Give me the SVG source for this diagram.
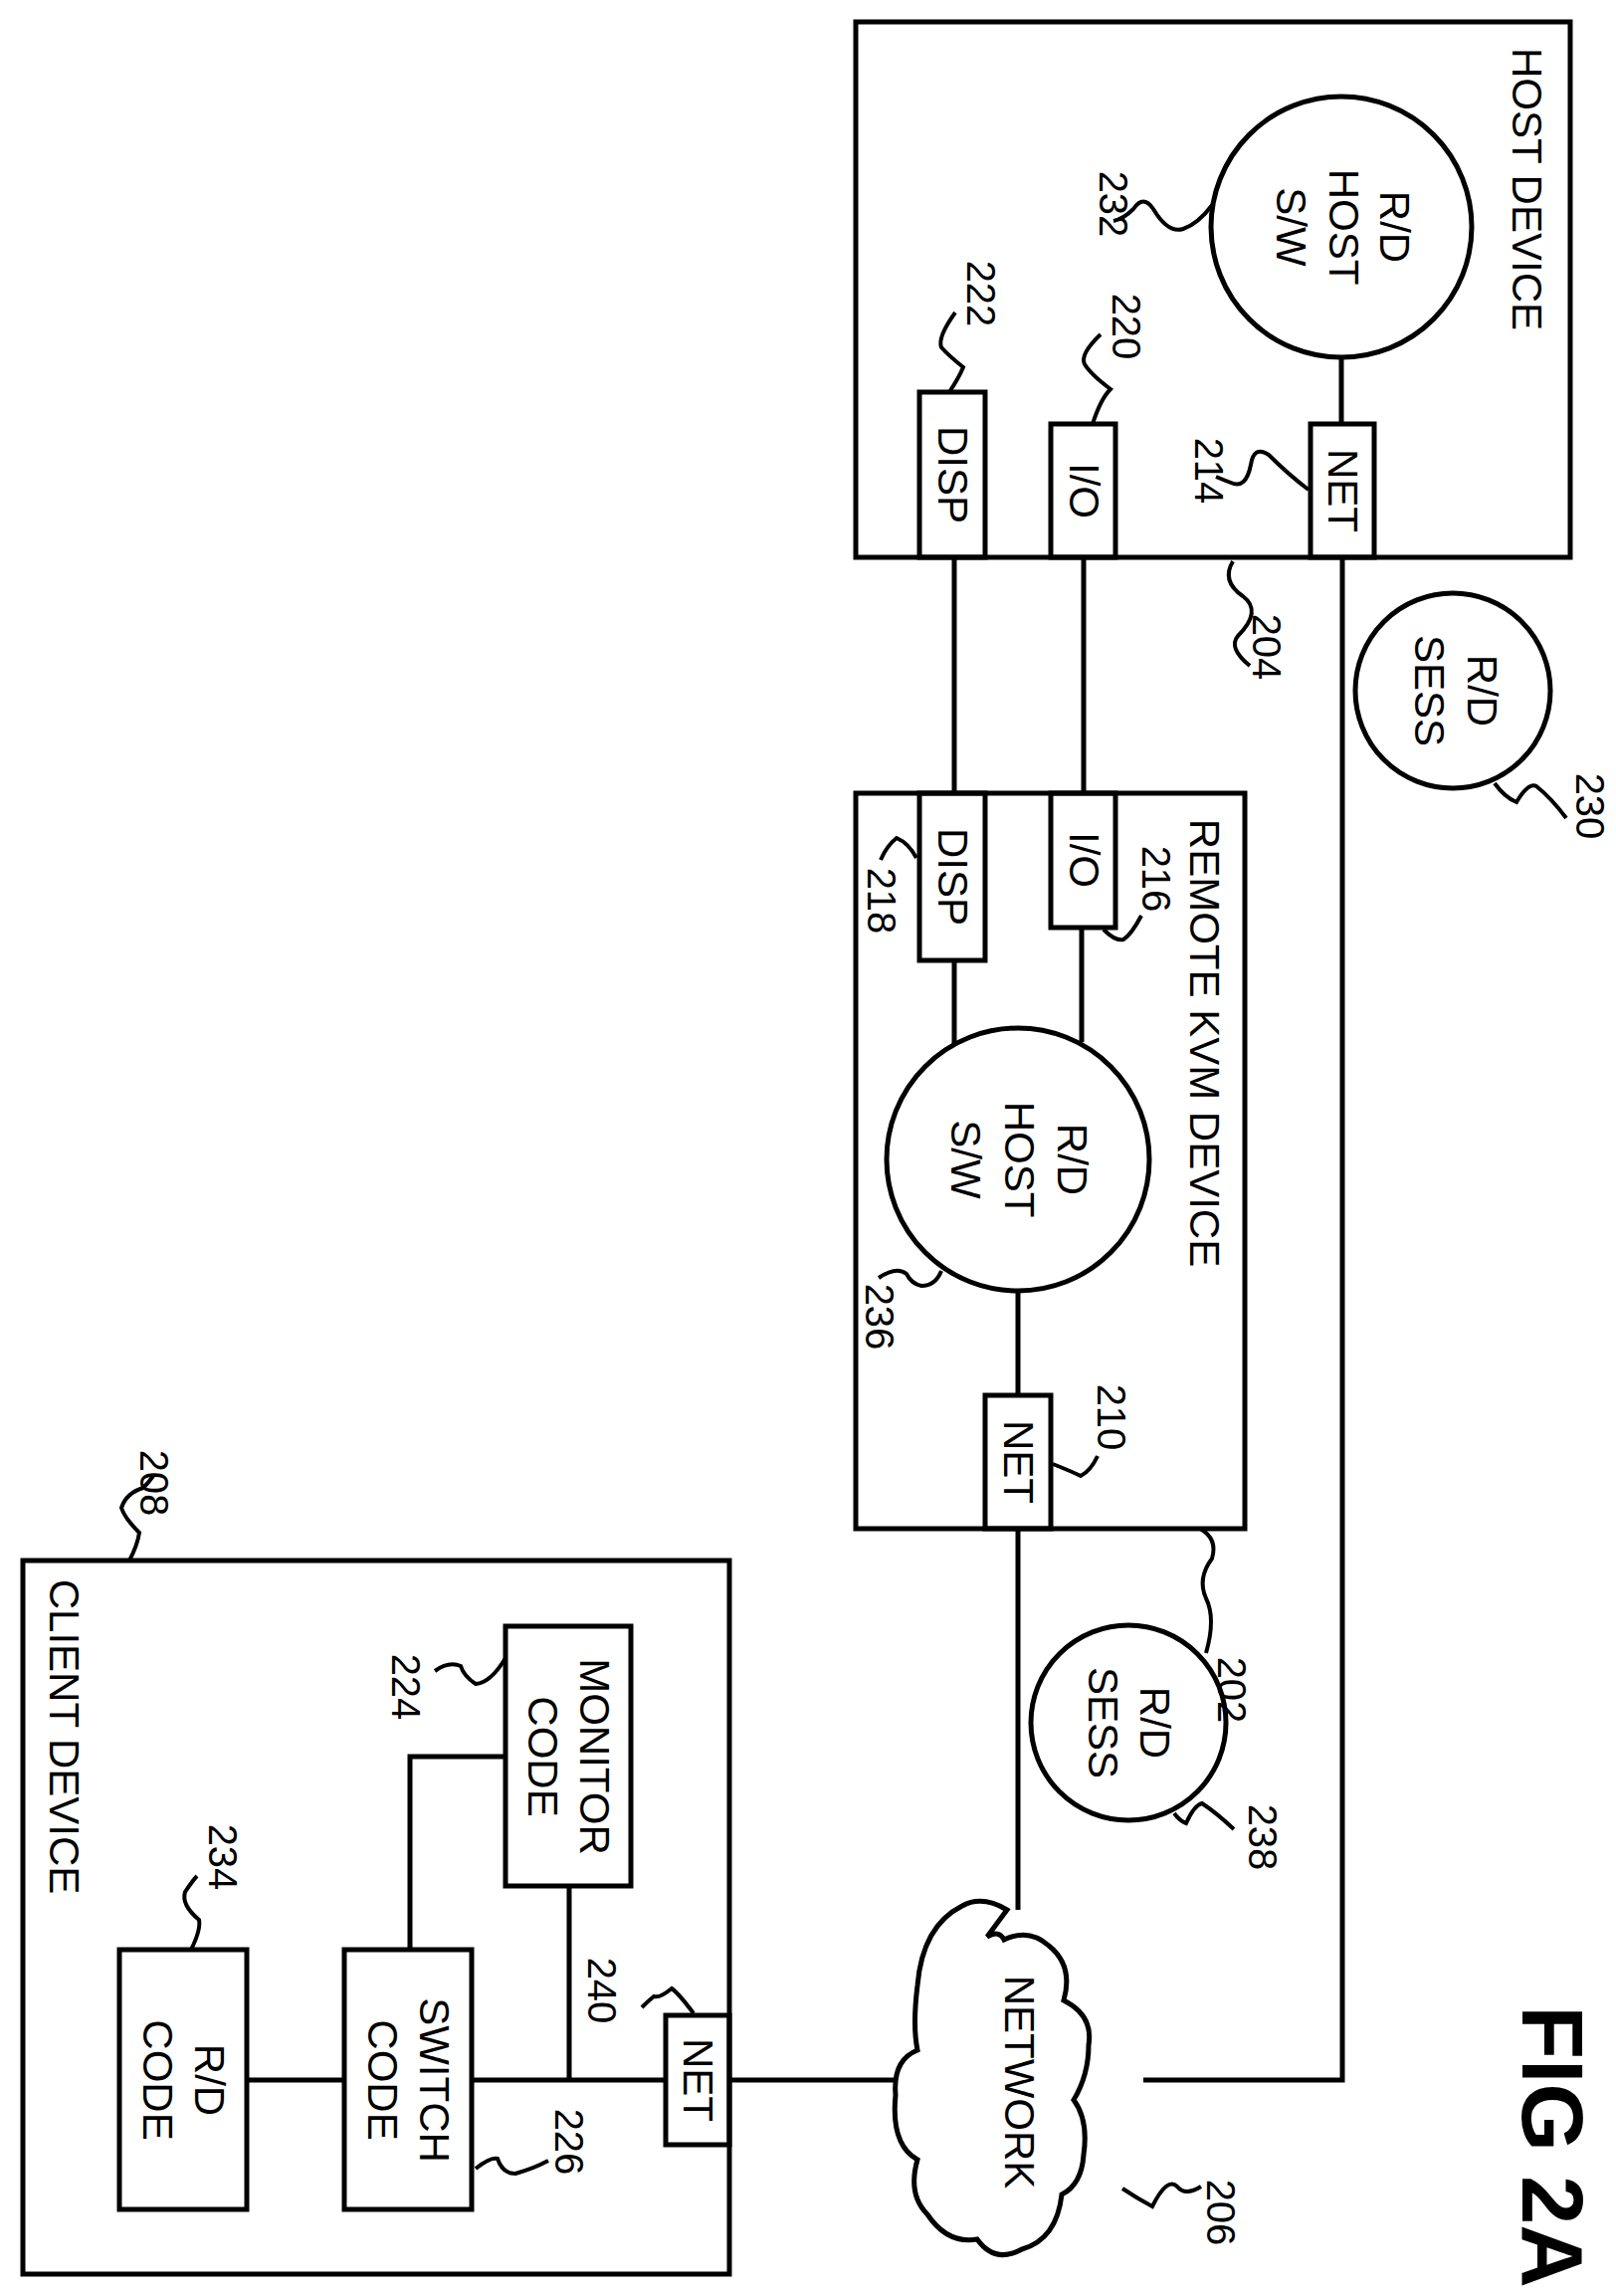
<svg xmlns="http://www.w3.org/2000/svg" width="1624" height="2307" viewBox="0 0 1624 2307">
<style>
.s{fill:none;stroke:#000;stroke-width:5}
.l{fill:none;stroke:#000;stroke-width:4}
text{font-family:"Liberation Sans",Arial,sans-serif;font-size:42px;fill:#000;text-anchor:middle;dominant-baseline:central}
.n{font-size:40px}
.f{font-size:88px;font-weight:bold}
</style>
<rect width="1624" height="2307" fill="#fff"/>
<g id="connectors" class="s">
<path d="M959 560V797M1089 560V797M1349 560V2090H1149"/>
<path d="M1348 359V426"/>
<path d="M959 965V1051M1087 932V1047M1023 1297V1402M1023 1536V1919"/>
<path d="M248 2090H346M474 2090H669M733 2090H900"/>
<path d="M572 1895V2090M508 1765H412V1959"/>
</g>
<g id="host_device">
<rect class="s" x="860" y="22" width="718" height="538"/>
<text transform="translate(1534,190) rotate(90)">HOST DEVICE</text>
<path class="l" d="M1239 564 q-12 20 10 35 q20 15 -5 40 q-10 12 12 30"/>
<text class="n" transform="translate(1273,650) rotate(90)">204</text>
</g>
<g id="host_sw">
<circle class="s" cx="1348" cy="228" r="131"/>
<text transform="translate(1401,228) rotate(90)">R/D</text>
<text transform="translate(1350,228) rotate(90)">HOST</text>
<text transform="translate(1297,228) rotate(90)">S/W</text>
<path class="l" d="M1219 205 q-15 20 -30 25 q-15 5 -30 -20 q-10 -15 -20 0 q-10 10 -20 12"/>
<text class="n" transform="translate(1119,205) rotate(90)">232</text>
</g>
<g id="host_net">
<rect class="s" x="1317" y="426" width="64" height="134"/>
<text transform="translate(1349,493) rotate(90)">NET</text>
<path class="l" d="M1315 492 q-20 -15 -40 -35 q-15 -10 -18 10 q-5 25 -20 18 q-8 -3 -15 -6"/>
<text class="n" transform="translate(1215,473) rotate(90)">214</text>
</g>
<g id="host_io">
<rect class="s" x="1056" y="426" width="65" height="134"/>
<text transform="translate(1089,493) rotate(90)">I/O</text>
<path class="l" d="M1098 426 q8 -25 18 -35 q-20 -15 -26 -25 q-5 -10 16 -30"/>
<text class="n" transform="translate(1132,328) rotate(90)">220</text>
</g>
<g id="host_disp">
<rect class="s" x="924" y="394" width="66" height="166"/>
<text transform="translate(957,477) rotate(90)">DISP</text>
<path class="l" d="M954 394 q10 -15 14 -25 q-15 -12 -22 -20 q-4 -10 14 -35"/>
<text class="n" transform="translate(986,295) rotate(90)">222</text>
</g>
<g id="sess_230">
<circle class="s" cx="1460" cy="694" r="98"/>
<text transform="translate(1489,694) rotate(90)">R/D</text>
<text transform="translate(1436,694) rotate(90)">SESS</text>
<path class="l" d="M1502 787 q10 14 22 19 q12 -20 20 -16 q15 12 30 32"/>
<text class="n" transform="translate(1598,810) rotate(90)">230</text>
</g>
<g id="kvm_device">
<rect class="s" x="860" y="797" width="391" height="739"/>
<text transform="translate(1210,1048) rotate(90)">REMOTE KVM DEVICE</text>
<path class="l" d="M1206 1536 q18 10 12 30 q-15 20 -6 40 q10 20 0 55"/>
<text class="n" transform="translate(1238,1698) rotate(90)">202</text>
</g>
<g id="kvm_sw">
<circle class="s" cx="1023" cy="1165" r="132"/>
<text transform="translate(1077,1165) rotate(90)">R/D</text>
<text transform="translate(1024,1165) rotate(90)">HOST</text>
<text transform="translate(970,1165) rotate(90)">S/W</text>
<path class="l" d="M946 1277 q-6 15 -20 15 q-10 -2 -15 -12 q-10 -8 -28 4"/>
<text class="n" transform="translate(884,1323) rotate(90)">236</text>
</g>
<g id="kvm_io">
<rect class="s" x="1056" y="797" width="65" height="135"/>
<text transform="translate(1089,864) rotate(90)">I/O</text>
<path class="l" d="M1109 934 q12 12 20 10 q8 -5 18 -24"/>
<text class="n" transform="translate(1162,883) rotate(90)">216</text>
</g>
<g id="kvm_disp">
<rect class="s" x="924" y="797" width="66" height="168"/>
<text transform="translate(957,881) rotate(90)">DISP</text>
<path class="l" d="M921 862 q-8 -15 -20 -20 q-10 8 -16 22"/>
<text class="n" transform="translate(886,905) rotate(90)">218</text>
</g>
<g id="kvm_net">
<rect class="s" x="990" y="1402" width="66" height="134"/>
<text transform="translate(1023,1469) rotate(90)">NET</text>
<path class="l" d="M1058 1471 q20 8 28 12 q10 -5 17 -20"/>
<text class="n" transform="translate(1117,1424) rotate(90)">210</text>
</g>
<g id="sess_238">
<circle class="s" cx="1134" cy="1731" r="98"/>
<text transform="translate(1160,1731) rotate(90)">R/D</text>
<text transform="translate(1108,1731) rotate(90)">SESS</text>
<path class="l" d="M1180 1822 q6 8 12 10 q8 -18 16 -20 q15 10 32 26"/>
<text class="n" transform="translate(1269,1846) rotate(90)">238</text>
</g>
<g id="network">
<path class="s" d="M1012 1919 q-25 -15 -45 -4 q-40 20 -45 80 q-5 40 0 65 q-25 10 -22 45 q-5 50 22 65 q-10 35 10 55 q20 30 50 25 q18 25 45 10 q35 -10 40 -55 q20 -10 22 -40 q5 -35 -10 -55 q15 -25 15 -55 q5 -30 -25 -45 q10 -35 -15 -55 q-20 -18 -45 -6 q-5 -10 -17 -3 z"/>
<text transform="translate(1024,2092) rotate(90)">NETWORK</text>
<path class="l" d="M1128 2199 q15 10 30 18 q15 -30 25 -20 q8 10 24 0"/>
<text class="n" transform="translate(1227,2223) rotate(90)">206</text>
</g>
<g id="client_device">
<rect class="s" x="23" y="1568" width="710" height="717"/>
<text transform="translate(64,1745) rotate(90)">CLIENT DEVICE</text>
<path class="l" d="M130 1568 q8 -15 10 -28 q-15 -15 -18 -25 q5 -15 22 -20 q5 -5 10 -12"/>
<text class="n" transform="translate(155,1490) rotate(90)">208</text>
</g>
<g id="monitor_code">
<rect class="s" x="508" y="1634" width="126" height="261"/>
<text transform="translate(597,1765) rotate(90)">MONITOR</text>
<text transform="translate(545,1765) rotate(90)">CODE</text>
<path class="l" d="M508 1666 q-15 25 -30 26 q-12 -8 -15 -18 q-12 -5 -26 5"/>
<text class="n" transform="translate(408,1695) rotate(90)">224</text>
</g>
<g id="switch_code">
<rect class="s" x="346" y="1959" width="128" height="261"/>
<text transform="translate(436,2090) rotate(90)">SWITCH</text>
<text transform="translate(384,2090) rotate(90)">CODE</text>
<path class="l" d="M478 2179 q15 -12 22 -10 q5 15 18 15 q18 -5 33 -13"/>
<text class="n" transform="translate(572,2152) rotate(90)">226</text>
</g>
<g id="rd_code">
<rect class="s" x="120" y="1959" width="128" height="261"/>
<text transform="translate(210,2090) rotate(90)">R/D</text>
<text transform="translate(158,2090) rotate(90)">CODE</text>
<path class="l" d="M192 1959 q10 -20 8 -30 q-18 -15 -14 -28 q8 -12 12 -16"/>
<text class="n" transform="translate(224,1866) rotate(90)">234</text>
</g>
<g id="client_net">
<rect class="s" x="669" y="2025" width="64" height="130"/>
<text transform="translate(701,2090) rotate(90)">NET</text>
<path class="l" d="M697 2023 q-15 -20 -22 -25 q-12 10 -18 8 q-6 5 -12 11"/>
<text class="n" transform="translate(605,2000) rotate(90)">240</text>
</g>
<text class="f" transform="translate(1560,2157) rotate(90)">FIG 2A</text>
</svg>
